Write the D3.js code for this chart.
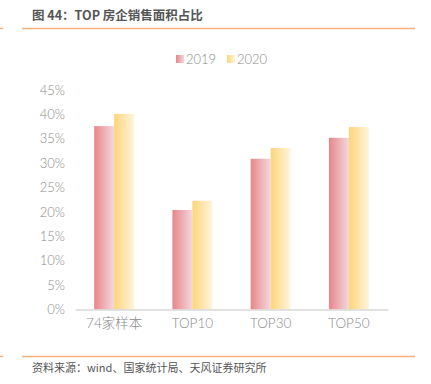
<!DOCTYPE html>
<html><head><meta charset="utf-8">
<script src="https://cdn.jsdelivr.net/npm/d3@7/dist/d3.min.js"></script>
<style>body{margin:0;background:#fff}svg{display:block}</style>
</head><body>
<svg id="c" width="431" height="384"></svg>
<script>
const categories = ["74家样本", "TOP10", "TOP30", "TOP50"];
const seriesNames = ["2019", "2020"];
const values2019 = [37.6, 20.4, 30.9, 35.2];
const values2020 = [40.1, 22.3, 33.1, 37.4];
const yTicks = [0, 5, 10, 15, 20, 25, 30, 35, 40, 45];

const svg = d3.select("#c");
const font = "'Noto Sans CJK SC', sans-serif";
const latin = "Lato, 'Noto Sans CJK SC', sans-serif";

const defs = svg.append("defs");
const grads = [["g2019", "#e8868b", "#f4d8dc"], ["g2020", "#fdd57a", "#fff5dc"]];
grads.forEach(([id, a, b]) => {
  const g = defs.append("linearGradient").attr("id", id).attr("x1", "0").attr("x2", "1").attr("y1", "0").attr("y2", "0");
  g.append("stop").attr("offset", "0%").attr("stop-color", a);
  g.append("stop").attr("offset", "100%").attr("stop-color", b);
});

// title & rules
svg.append("text").attr("x", 32).attr("y", 20).attr("font-family", font).attr("font-size", 12.5)
  .attr("font-weight", "bold").attr("fill", "#555").text("图 44：TOP 房企销售面积占比");
svg.append("line").attr("x1", 0).attr("x2", 3).attr("y1", 28.5).attr("y2", 28.5).attr("stroke", "#f7b27a").attr("stroke-width", 1.5);
svg.append("line").attr("x1", 22).attr("x2", 415).attr("y1", 28.5).attr("y2", 28.5).attr("stroke", "#f7b27a").attr("stroke-width", 1.5);
svg.append("line").attr("x1", 0).attr("x2", 3).attr("y1", 356.5).attr("y2", 356.5).attr("stroke", "#f7b27a").attr("stroke-width", 1.5);
svg.append("line").attr("x1", 22).attr("x2", 415).attr("y1", 356.5).attr("y2", 356.5).attr("stroke", "#f7b27a").attr("stroke-width", 1.5);
svg.append("text").attr("x", 32).attr("y", 372).attr("font-family", font).attr("font-size", 11)
  .attr("fill", "#555").text("资料来源：wind、国家统计局、天风证券研究所");

// scales
const x = d3.scaleBand().domain(categories).range([75, 388]).paddingInner(0.49).paddingOuter(0.245);
const xs = d3.scaleBand().domain(seriesNames).range([0, x.bandwidth()]);
const y = d3.scaleLinear().domain([0, 45]).range([309.5, 90]);

// y axis labels
const yAxis = d3.axisLeft(y).tickValues(yTicks).tickFormat(d => d + "%").tickSize(0).tickPadding(0);
const ya = svg.append("g").attr("transform", "translate(65,0)").call(yAxis);
ya.select(".domain").remove();
ya.selectAll("text").attr("font-family", latin).attr("font-size", 13).attr("font-weight", 300).attr("fill", "#8a8a8a");

// bars
const data = [values2019, values2020];
seriesNames.forEach((s, i) => {
  svg.append("g").selectAll("rect").data(categories).join("rect")
    .attr("x", d => x(d) + xs(s))
    .attr("width", xs.bandwidth())
    .attr("y", (d, j) => y(data[i][j]))
    .attr("height", (d, j) => y(0) - y(data[i][j]))
    .attr("fill", `url(#g${s})`);
});

// x axis
const xAxis = d3.axisBottom(x).tickSize(0).tickPadding(9);
const xa = svg.append("g").attr("transform", `translate(0,${y(0)})`).call(xAxis);
xa.select(".domain").attr("stroke", "#d9d9d9").attr("stroke-width", 1.5);
xa.selectAll("text").attr("font-family", latin).attr("font-size", 13.5).attr("font-weight", 300).attr("fill", "#8a8a8a");

// legend
const legendX = [176, 227];
seriesNames.forEach((s, i) => {
  svg.append("rect").attr("x", legendX[i]).attr("y", 55).attr("width", 8).attr("height", 8).attr("fill", `url(#g${s})`);
  svg.append("text").attr("x", legendX[i] + 10).attr("y", 64).attr("font-family", latin).attr("font-size", 13)
    .attr("font-weight", 300).attr("fill", "#8a8a8a").text(s);
});
</script>
</body></html>
